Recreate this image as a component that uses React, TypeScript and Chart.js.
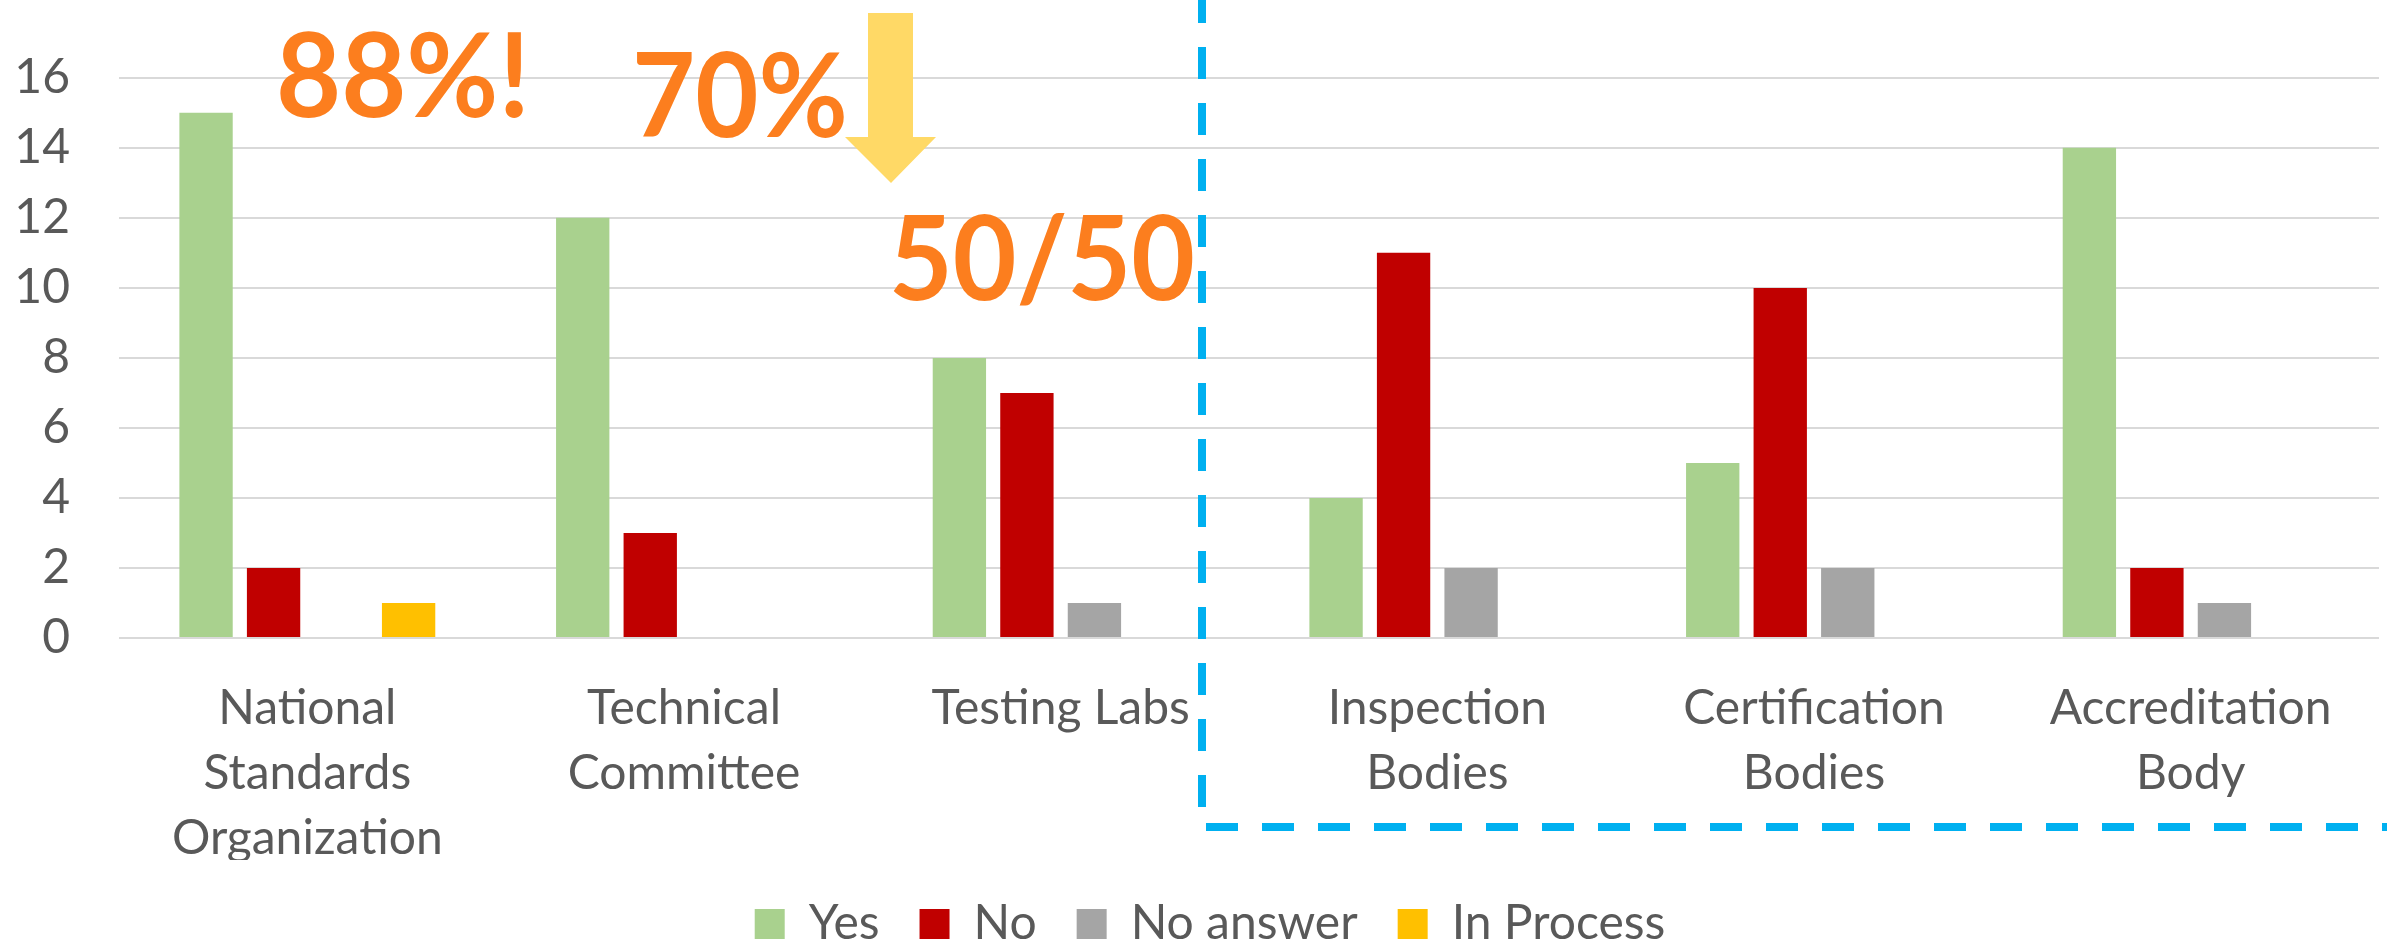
import React, { useEffect, useRef } from "react";
import { Chart, registerables } from "chart.js";
Chart.register(...registerables);

const categories: string[][] = [
  ["National", "Standards", "Organization"],
  ["Technical", "Committee"],
  ["Testing Labs"],
  ["Inspection", "Bodies"],
  ["Certification", "Bodies"],
  ["Accreditation", "Body"],
];
const seriesNames = ["Yes", "No", "No answer", "In Process"];
const yesValues = [15, 12, 8, 4, 5, 14];
const noValues = [2, 3, 7, 11, 10, 2];
const noAnswerValues = [null, null, 1, 2, 2, 1];
const inProcessValues = [1, null, null, null, null, null];
const yTicks = [0, 2, 4, 6, 8, 10, 12, 14, 16];
const callouts = ["88%!", "70%", "50/50"];

const seriesColors = ["#A9D18E", "#C00000", "#A5A5A5", "#FFC000"];
const TEXT = "#595959";
const FONT = "Lato";

const overlay = {
  id: "overlay",
  afterDraw(chart: any) {
    const ctx = chart.ctx as CanvasRenderingContext2D;
    ctx.save();
    // dashed separator
    ctx.strokeStyle = "#00B0F0";
    ctx.lineWidth = 8;
    ctx.setLineDash([32, 24]);
    ctx.beginPath();
    ctx.moveTo(1202, -9);
    ctx.lineTo(1202, 827);
    ctx.lineTo(2400, 827);
    ctx.stroke();
    ctx.setLineDash([]);
    // arrow
    ctx.fillStyle = "#FFD966";
    ctx.beginPath();
    ctx.moveTo(868, 13);
    ctx.lineTo(913, 13);
    ctx.lineTo(913, 137);
    ctx.lineTo(936, 137);
    ctx.lineTo(891, 183);
    ctx.lineTo(845, 137);
    ctx.lineTo(868, 137);
    ctx.closePath();
    ctx.fill();
    // callouts
    ctx.fillStyle = "#FC7E1E";
    ctx.font = `bold 116px ${FONT}`;
    ctx.textAlign = "left";
    ctx.textBaseline = "alphabetic";
    ctx.fillText(callouts[0], 276, 117, 254);
    ctx.fillText(callouts[1], 632, 137, 216);
    ctx.fillText(callouts[2], 889, 300, 306);
    ctx.restore();
  },
};

export default function App() {
  const ref = useRef<HTMLCanvasElement>(null);
  useEffect(() => {
    const canvas = ref.current!;
    const values = [yesValues, noValues, noAnswerValues, inProcessValues];
    const chart = new Chart(canvas, {
      type: "bar",
      data: {
        labels: categories,
        datasets: seriesNames.map((name, i) => ({
          label: name,
          data: values[i] as any,
          backgroundColor: seriesColors[i],
          borderWidth: 0,
          categoryPercentage: 0.717,
          barPercentage: 0.79,
        })),
      },
      options: {
        animation: false,
        responsive: false,
        layout: { padding: { top: 70, right: 0, left: 0, bottom: 0 } },
        plugins: {
          legend: {
            position: "bottom",
            labels: {
              boxWidth: 30,
              boxHeight: 30,
              padding: 40,
              color: TEXT,
              font: { family: FONT, size: 48 },
            },
          },
          tooltip: { enabled: false },
        },
        scales: {
          x: {
            grid: { display: false, drawTicks: false },
            border: { display: false },
            ticks: {
              color: TEXT,
              font: { family: FONT, size: 48, lineHeight: 65 / 48 },
              padding: 38,
              maxRotation: 0,
              autoSkip: false,
            },
            afterFit(s: any) {
              s.height = 222;
            },
          },
          y: {
            min: 0,
            max: 16,
            grid: { color: "#D9D9D9", lineWidth: 2, drawTicks: false },
            border: { display: false },
            ticks: {
              color: TEXT,
              font: { family: FONT, size: 48 },
              padding: 49,
            },
            afterBuildTicks(s: any) {
              s.ticks = yTicks.map((v) => ({ value: v }));
            },
            afterFit(s: any) {
              s.width = 119;
            },
          },
          yRightSpacer: {
            type: "linear",
            position: "right",
            grid: { display: false, drawTicks: false },
            border: { display: false },
            ticks: { display: false },
            afterFit(s: any) {
              s.width = 41;
            },
          },
        },
      } as any,
      plugins: [overlay],
    });
    let alive = true;
    const fonts = (document as any).fonts;
    if (fonts && fonts.load) {
      Promise.all([fonts.load(`48px ${FONT}`), fonts.load(`bold 116px ${FONT}`)]).then(() => {
        if (alive) chart.update();
      });
    }
    return () => {
      alive = false;
      chart.destroy();
    };
  }, []);
  return (
    <div
      style={{
        position: "fixed",
        left: 0,
        top: 0,
        width: 2387,
        height: 945,
        overflow: "hidden",
        background: "#fff",
      }}
    >
      <canvas ref={ref} width={2420} height={958} style={{ display: "block" }} />
    </div>
  );
}
